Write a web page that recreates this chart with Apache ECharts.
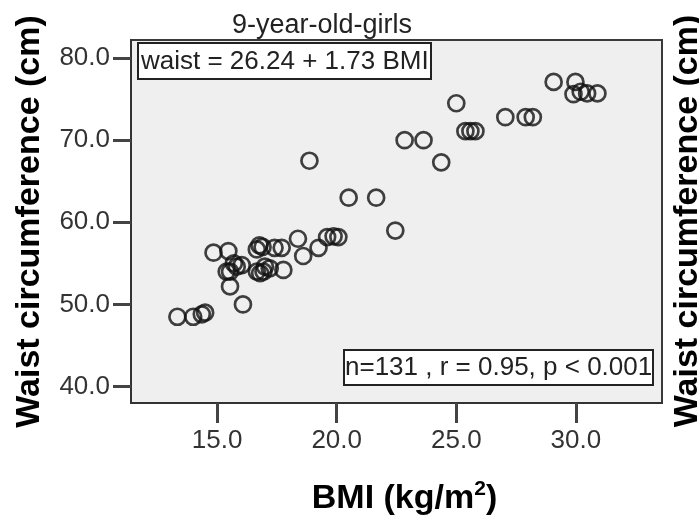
<!DOCTYPE html>
<html>
<head>
<meta charset="utf-8">
<script src="https://cdn.jsdelivr.net/npm/echarts@6/dist/echarts.min.js"></script>
<style>
html,body{margin:0;padding:0;background:#fff;}
#chart{width:699px;height:523px;}
</style>
</head>
<body>
<div id="chart"></div>
<script>
// ---- data ----
const chartTitle = '9-year-old-girls';
const equationText = 'waist = 26.24 + 1.73 BMI';
const statsText = 'n=131 , r = 0.95, p < 0.001';
const xTicks = [15, 20, 25, 30];
const yTicks = [40, 50, 60, 70, 80];
const bmi = [13.34, 14.0, 14.36, 14.5, 14.85, 15.47, 15.4, 15.54, 15.82, 16.03,
  15.7, 15.54, 16.08, 16.66, 16.77, 16.9, 16.66, 16.94, 17.2, 17.0,
  16.8, 17.4, 17.7, 17.77, 18.38, 18.6, 18.86, 19.24, 19.6, 19.87,
  20.07, 20.5, 21.65, 22.45, 22.84, 23.63, 24.37, 25.0, 25.38, 25.59,
  25.8, 27.05, 27.9, 28.2, 29.07, 29.98, 29.9, 30.2, 30.47, 30.9];
const waist = [48.5, 48.5, 48.8, 49.0, 56.3, 56.5, 54.0, 54.0, 54.6, 54.8,
  55.0, 52.2, 50.0, 56.7, 57.2, 57.0, 54.0, 54.0, 54.4, 54.6,
  53.8, 56.9, 56.9, 54.2, 58.0, 55.9, 67.5, 56.9, 58.2, 58.3,
  58.2, 63.0, 63.0, 59.0, 70.0, 70.0, 67.3, 74.5, 71.1, 71.1,
  71.1, 72.8, 72.8, 72.8, 77.1, 77.1, 75.6, 75.9, 75.7, 75.7];
const xName = 'BMI (kg/m';
const yName = 'Waist circumference (cm)';

const points = bmi.map((b, i) => [b, waist[i]]);

const chart = echarts.init(document.getElementById('chart'));
const font = '"Liberation Sans", Arial, sans-serif';
chart.setOption({
  backgroundColor: '#fff',
  animation: false,
  title: [
    {text: chartTitle, left: 227, top: 7,
     textStyle: {fontFamily: font, fontSize: 27, fontWeight: 'normal', color: '#222'}},
    {text: equationText, left: 138, top: 43,
     backgroundColor: '#fff', borderColor: '#222', borderWidth: 2,
     padding: [4, 3, 3, 3],
     textStyle: {fontFamily: font, fontSize: 26, fontWeight: 'normal', color: '#222', lineHeight: 29}},
    {text: statsText, left: 344, top: 350,
     backgroundColor: '#fff', borderColor: '#222', borderWidth: 2,
     padding: [4, 1, 3, 1],
     textStyle: {fontFamily: font, fontSize: 26, fontWeight: 'normal', color: '#222', lineHeight: 28}}
  ],
  grid: {left: 131, top: 40, width: 531, height: 363, show: true,
    backgroundColor: '#efefef', borderColor: '#3a3a3a', borderWidth: 2,
    containLabel: false, outerBoundsMode: 'none'},
  xAxis: {
    type: 'value', min: 11.4, max: 33.6,
    name: xName + '{sup|2})',
    nameLocation: 'middle', nameGap: 76,
    nameTextStyle: {fontFamily: font, fontSize: 34, fontWeight: 'bold', color: '#000', padding: [0, 0, 0, 16],
      rich: {sup: {fontFamily: font, fontSize: 21, fontWeight: 'bold', color: '#000', verticalAlign: 'top', padding: [0, 0, 18, 0]}}},
    splitLine: {show: false},
    axisLine: {show: true, onZero: false, lineStyle: {color: '#333', width: 2}},
    axisTick: {show: true, length: 20, customValues: xTicks, lineStyle: {color: '#444', width: 3}},
    axisLabel: {customValues: xTicks, margin: 25, fontFamily: font, fontSize: 26, color: '#333',
      formatter: v => v.toFixed(1)}
  },
  yAxis: {
    type: 'value', min: 38.0, max: 82.2,
    name: yName, nameLocation: 'middle', nameGap: 84,
    nameTextStyle: {fontFamily: font, fontSize: 34, fontWeight: 'bold', color: '#000'},
    splitLine: {show: false},
    axisLine: {show: true, onZero: false, lineStyle: {color: '#333', width: 2}},
    axisTick: {show: true, length: 18, customValues: yTicks, lineStyle: {color: '#444', width: 3}},
    axisLabel: {customValues: yTicks, margin: 21, fontFamily: font, fontSize: 26, color: '#333',
      formatter: v => v.toFixed(1)}
  },
  graphic: [{
    type: 'text', x: 688, y: 221, rotation: Math.PI / 2,
    style: {text: yName, fill: '#000', font: 'bold 34px ' + font, textAlign: 'center', textVerticalAlign: 'middle'}
  }],
  series: [{
    type: 'scatter', data: points, symbol: 'circle', symbolSize: 16,
    itemStyle: {color: 'rgba(0,0,0,0)', borderColor: '#111', borderWidth: 2.7}
  }]
});
</script>
</body>
</html>
